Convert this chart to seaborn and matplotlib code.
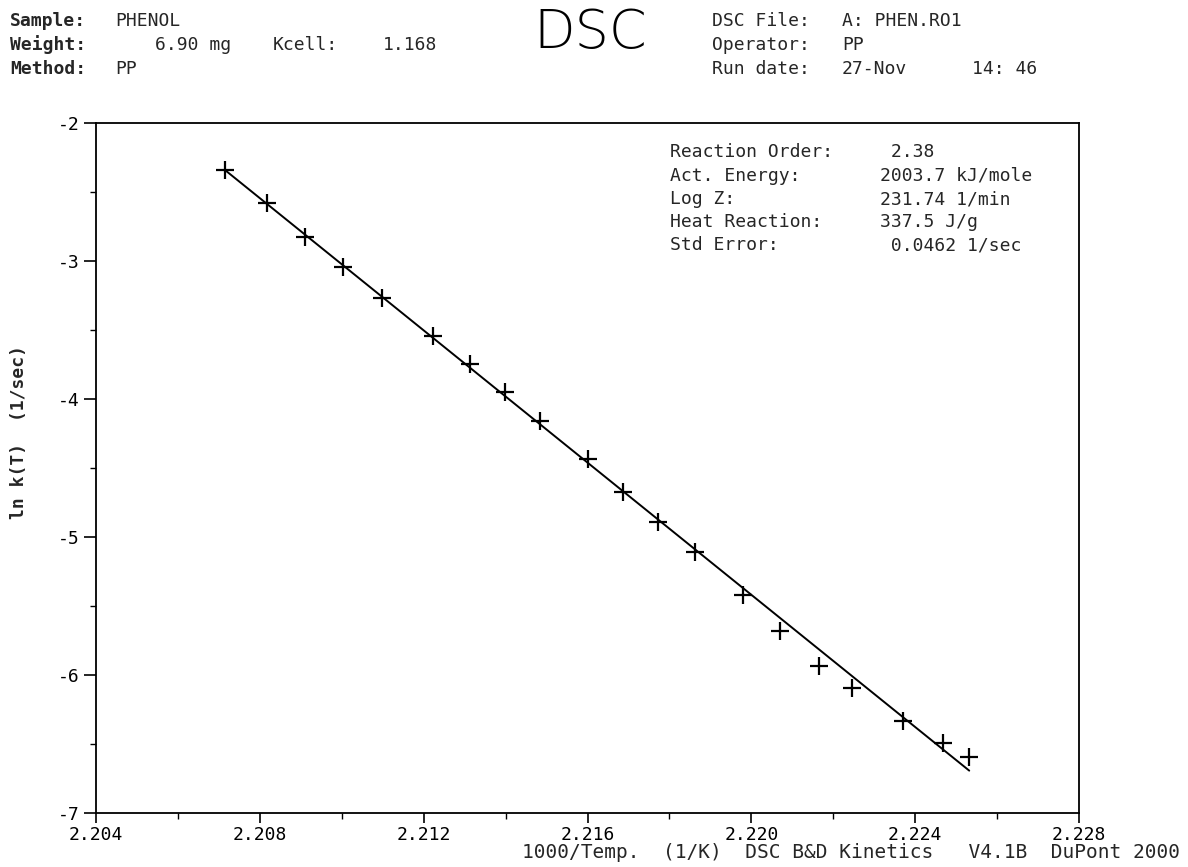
import numpy as np
import pandas as pd
import matplotlib
matplotlib.use("Agg")
import matplotlib.pyplot as plt
import seaborn as sns
from matplotlib.ticker import MultipleLocator, FormatStrFormatter

# ---- data ----
inv_temp = [2.20715, 2.20817, 2.20910, 2.21004, 2.21099, 2.21224, 2.21313,
            2.21399, 2.21484, 2.21602, 2.21687, 2.21773, 2.21862, 2.21980,
            2.22070, 2.22164, 2.22245, 2.22371, 2.22467, 2.22532]
ln_k = [-2.341, -2.582, -2.824, -3.041, -3.266, -3.541, -3.746,
        -3.951, -4.157, -4.437, -4.672, -4.889, -5.107, -5.420,
        -5.679, -5.933, -6.096, -6.331, -6.495, -6.596]
fit_inv_temp = [2.20715, 2.22532]
fit_ln_k = [-2.341, -6.693]

x_ticks = [2.204, 2.208, 2.212, 2.216, 2.220, 2.224, 2.228]
y_ticks = [-7, -6, -5, -4, -3, -2]

header_left = [("Sample:", "PHENOL"), ("Weight:", ""), ("Method:", "PP")]
header_right = [("DSC File:", "A: PHEN.RO1"), ("Operator:", "PP"), ("Run date:", "27-Nov")]
info_labels = ["Reaction Order:", "Act. Energy:", "Log Z:", "Heat Reaction:", "Std Error:"]
info_values = [" 2.38", "2003.7 kJ/mole", "231.74 1/min", "337.5 J/g", " 0.0462 1/sec"]
xlabel_text = "1000/Temp.  (1/K)  DSC B&D Kinetics   V4.1B  DuPont 2000"

sns.set_theme(style="white")
MONO = ["DejaVu Sans Mono", "DejaVu Sans"]
plt.rcParams['font.family'] = MONO
plt.rcParams['axes.unicode_minus'] = False

W, H = 1188, 867
fig = plt.figure(figsize=(W / 100, H / 100), dpi=100)
fig.patch.set_facecolor("white")

def fx(px):
    return px / W

def fy(py):
    return 1 - py / H

ax = fig.add_axes([fx(96), fy(813), (1079 - 96) / W, (813 - 123) / H])
ax.set_facecolor("white")

df = pd.DataFrame({"inv_temp": inv_temp, "ln_k": ln_k})
fit_df = pd.DataFrame({"inv_temp": fit_inv_temp, "ln_k": fit_ln_k})
sns.lineplot(data=fit_df, x="inv_temp", y="ln_k", color="black", linewidth=1.4, ax=ax)
sns.scatterplot(data=df, x="inv_temp", y="ln_k", marker="+", s=150, color="black",
                linewidth=1.6, ax=ax, zorder=3)

ax.set_xlim(2.204, 2.228)
ax.set_ylim(-7, -2)
ax.set_xticks(x_ticks)
ax.set_yticks(y_ticks)
ax.xaxis.set_major_formatter(FormatStrFormatter("%.3f"))
ax.yaxis.set_major_formatter(FormatStrFormatter("%d"))
ax.xaxis.set_minor_locator(MultipleLocator(0.002))
ax.yaxis.set_minor_locator(MultipleLocator(0.5))
ax.tick_params(axis="x", which="major", direction="out", length=7, width=1.2,
               colors="black", labelsize=13, pad=2, bottom=True)
ax.tick_params(axis="y", which="major", direction="out", length=9, width=1.2,
               colors="black", labelsize=13, pad=3, left=True)
ax.tick_params(axis="both", which="minor", direction="out", length=4, width=1.0,
               colors="black", bottom=True, left=True)
for sp in ax.spines.values():
    sp.set_color("black")
    sp.set_linewidth(1.3)
    sp.set_visible(True)
ax.set_xlabel("")
ax.set_ylabel("")

# y-axis label
fig.text(fx(19), fy(432), "ln k(T)  (1/sec)", rotation=90, ha="center", va="center",
         fontsize=13, fontweight="bold")
# x-axis label line
fig.text(fx(1180), fy(853), xlabel_text, ha="right", va="center", fontsize=14)

# header
hfs = 13
rows_y = [21, 45, 69]
for (lab, val), yy in zip(header_left, rows_y):
    fig.text(fx(10), fy(yy), lab, ha="left", va="center", fontsize=hfs, fontweight="bold")
    if val:
        fig.text(fx(115), fy(yy), val, ha="left", va="center", fontsize=hfs)
fig.text(fx(155), fy(45), "6.90 mg", ha="left", va="center", fontsize=hfs)
fig.text(fx(273), fy(45), "Kcell:", ha="left", va="center", fontsize=hfs)
fig.text(fx(383), fy(45), "1.168", ha="left", va="center", fontsize=hfs)

fig.text(fx(590), fy(33), "DSC", ha="center", va="center", fontsize=39,
         fontweight="light", family="DejaVu Sans", color="black")

for (lab, val), yy in zip(header_right, rows_y):
    fig.text(fx(712), fy(yy), lab, ha="left", va="center", fontsize=hfs)
    fig.text(fx(842), fy(yy), val, ha="left", va="center", fontsize=hfs)
fig.text(fx(972), fy(69), "14: 46", ha="left", va="center", fontsize=hfs)

# info block inside the plot
info_y = [152, 176, 199, 222, 245]
for lab, val, yy in zip(info_labels, info_values, info_y):
    fig.text(fx(670), fy(yy), lab, ha="left", va="center", fontsize=13)
    fig.text(fx(880), fy(yy), val, ha="left", va="center", fontsize=13)

fig.savefig("out.png", dpi=100, facecolor="white")
